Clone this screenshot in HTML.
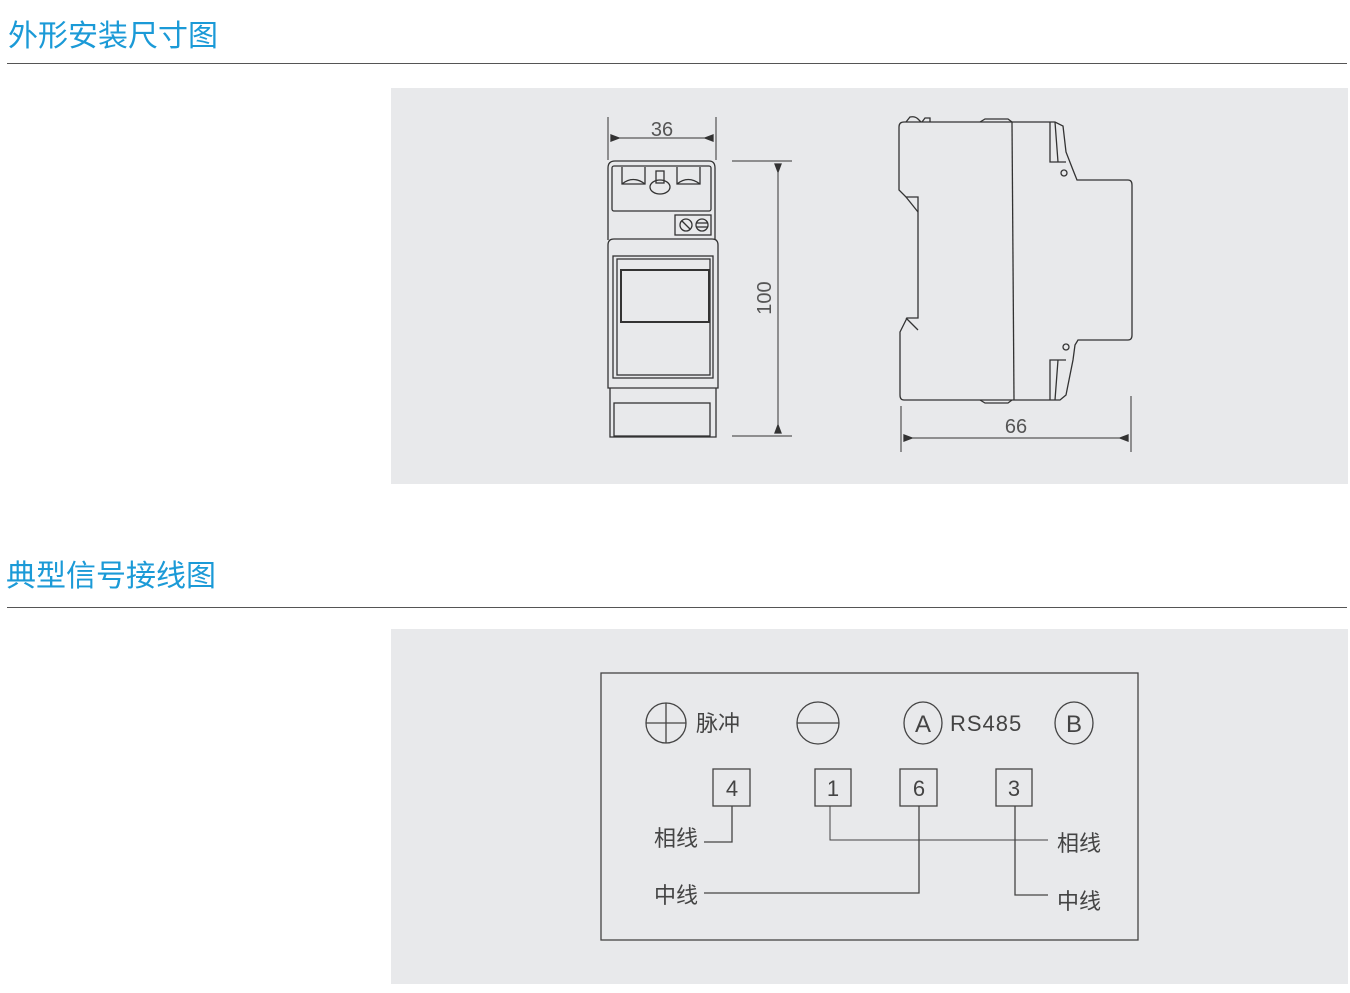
<!DOCTYPE html>
<html><head><meta charset="utf-8"><style>
body{margin:0;width:1350px;height:993px;background:#fff;position:relative;overflow:hidden;font-family:"Liberation Sans","Noto Sans CJK SC",sans-serif}
.t{position:absolute;left:8px;color:#1b9ad7;font-size:30px;line-height:1}
.hr{position:absolute;left:7px;width:1340px;height:1px;background:#555}
.panel{position:absolute;left:391px;width:957px;background:#e8e9eb}
</style></head><body>
<div class="t" style="top:22px">外形安装尺寸图</div>
<div class="hr" style="top:63px"></div>
<div class="panel" style="top:88px;height:396px"></div>
<div class="t" style="top:562px;left:6px">典型信号接线图</div>
<div class="hr" style="top:607px"></div>
<div class="panel" style="top:629px;height:355px"></div>
<svg width="1350" height="993" style="position:absolute;left:0;top:0" font-family="Liberation Sans, Noto Sans CJK SC, sans-serif">
<g fill="none" stroke="#333" stroke-width="1.3">
<line x1="608" y1="117" x2="608" y2="160" stroke-width="1"/>
<line x1="716" y1="117" x2="716" y2="160" stroke-width="1"/>
<line x1="611" y1="138" x2="713" y2="138" stroke-width="1"/>
<path d="M611 135 L619 138 L611 141Z M713 135 L705 138 L713 141Z" fill="#333"/>
<path d="M608 240 V168 Q608 161 615 161 H709 Q715 161 715 168 V240"/>
<rect x="612" y="166" width="99" height="45" rx="2"/>
<path d="M622 167 V184 H645 V167 M622 184 Q633 175 645 184"/>
<path d="M677 167 V184 H700 V167 M677 184 Q688 175 700 184"/>
<rect x="656" y="171" width="8" height="12"/>
<ellipse cx="660" cy="187" rx="10" ry="7"/>
<rect x="675" y="215" width="36" height="20"/>
<circle cx="686" cy="225" r="6"/><circle cx="702" cy="225" r="6"/>
<line x1="682" y1="221" x2="690" y2="229"/><line x1="696" y1="223" x2="708" y2="223"/><line x1="696" y1="227" x2="708" y2="227"/>
<path d="M608 388 V245 Q608 239 614 239 H712 Q718 239 718 245 V388 Z"/>
<rect x="613" y="256" width="100" height="122"/>
<rect x="617" y="259" width="93" height="116"/>
<rect x="621" y="270" width="88" height="52" stroke-width="2"/>
<path d="M610 388 V437 H716 V388"/>
<rect x="614" y="403" width="96" height="33"/>
<line x1="732" y1="161" x2="792" y2="161" stroke-width="1"/>
<line x1="732" y1="436" x2="792" y2="436" stroke-width="1"/>
<line x1="778" y1="164" x2="778" y2="433" stroke-width="1"/>
<path d="M775 164 L778 172 L781 164Z M775 433 L778 425 L781 433Z" fill="#333"/>
<path d="M904 122 H1050 L1055 122 L1063 126 L1066 152 L1073 170 L1077 180 H1128 Q1132 180 1132 185 V335 Q1132 340 1128 340 H1078 L1075 345 L1073 360 L1066 395 L1060 400 H904 Q900 400 900 395 V332 L907 318 H918 V197 H906 L899 190 V127 Q899 122 904 122 Z"/>
<line x1="1012" y1="122" x2="1014" y2="400"/>
<path d="M980 122 L985 119 H1008 L1012 122 M980 400 L985 403 H1008 L1012 400"/>
<path d="M906 122 L910 117 Q915 116 918 119 L921 122 M922 122 L925 118 H930 L930 122"/>
<path d="M1050 122 V162 H1066 M1055 122 L1058 162 M1050 400 V360 H1066 M1055 400 L1058 360"/>
<path d="M906 197 L918 212 M906 318 L918 330"/>
<circle cx="1064" cy="173" r="3"/><circle cx="1066" cy="347" r="3"/>
<line x1="901" y1="406" x2="901" y2="452" stroke-width="1"/>
<line x1="1131" y1="396" x2="1131" y2="452" stroke-width="1"/>
<line x1="904" y1="438" x2="1128" y2="438" stroke-width="1"/>
<path d="M904 435 L912 438 L904 441Z M1128 435 L1120 438 L1128 441Z" fill="#333"/>
</g>
<text x="662" y="136" font-size="20" fill="#555" text-anchor="middle">36</text>
<text x="1016" y="433" font-size="20" fill="#555" text-anchor="middle">66</text>
<text transform="translate(771,298) rotate(-90)" font-size="20" fill="#555" text-anchor="middle">100</text>
<g fill="none" stroke="#444" stroke-width="1.3">
<rect x="601" y="673" width="537" height="267"/>
<circle cx="666" cy="723" r="20"/><line x1="646" y1="723" x2="686" y2="723"/><line x1="666" y1="703" x2="666" y2="743"/>
<circle cx="818" cy="723" r="21"/><line x1="797" y1="723" x2="839" y2="723"/>
<ellipse cx="923" cy="723" rx="19" ry="21"/>
<ellipse cx="1074" cy="723" rx="19" ry="21"/>
<rect x="713" y="769" width="37" height="37"/>
<rect x="815" y="769" width="36" height="37"/>
<rect x="900" y="769" width="37" height="37"/>
<rect x="996" y="769" width="36" height="37"/>
<path d="M732 806 V842 H704"/>
<path d="M830 806 V840 H1048" stroke-width="1"/>
<path d="M919 806 V893 H704"/>
<path d="M1015 806 V895 H1048"/>
</g>
<g fill="#444" font-size="22">
<text x="696" y="731">脉冲</text>
<text x="923" y="732" text-anchor="middle" font-size="24">A</text>
<text x="1074" y="732" text-anchor="middle" font-size="24">B</text>
<text x="950" y="731" letter-spacing="1">RS485</text>
<text x="732" y="796" text-anchor="middle">4</text>
<text x="833" y="796" text-anchor="middle">1</text>
<text x="919" y="796" text-anchor="middle">6</text>
<text x="1014" y="796" text-anchor="middle">3</text>
<text x="654" y="846">相线</text>
<text x="654" y="903">中线</text>
<text x="1057" y="851">相线</text>
<text x="1057" y="909">中线</text>
</g>
</svg>
</body></html>
